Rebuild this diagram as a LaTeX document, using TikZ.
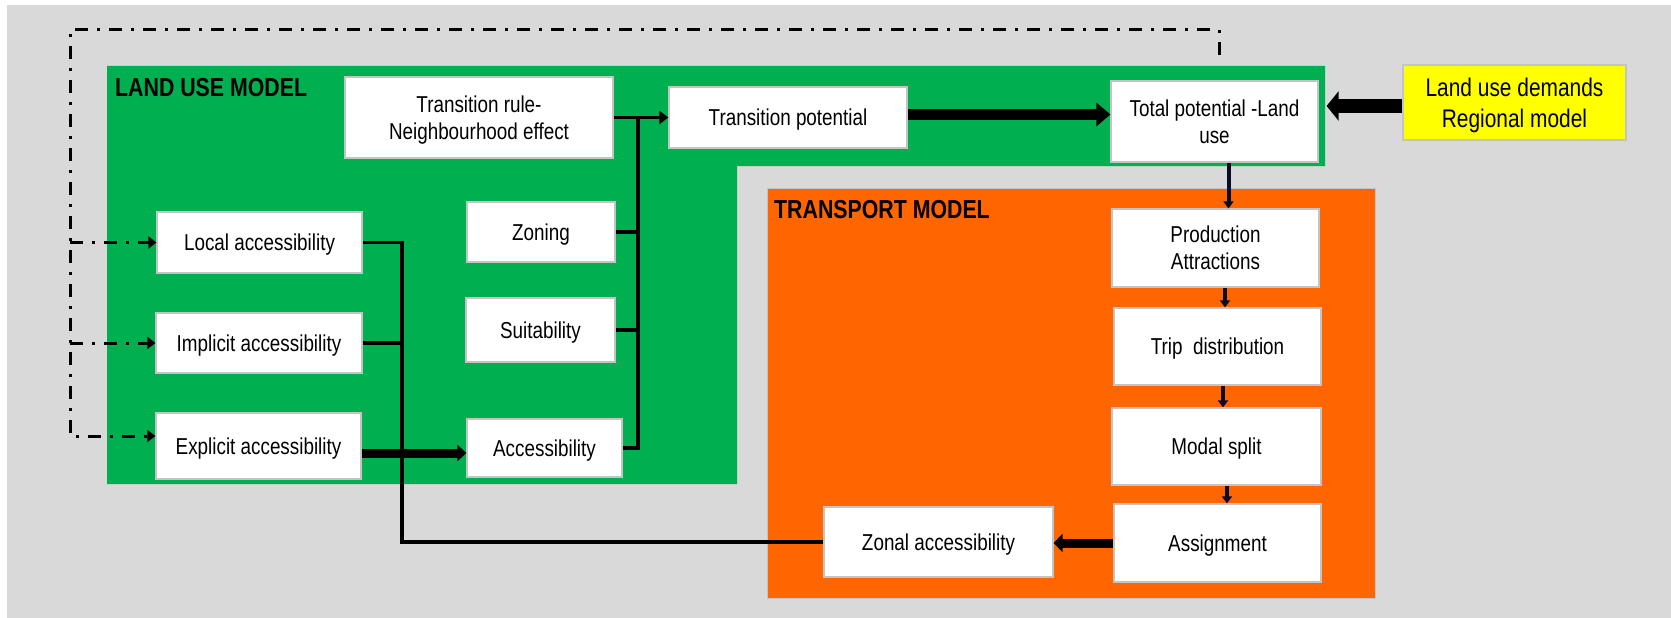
\documentclass[tikz,border=0pt]{standalone}
\usepackage{fontspec}
\setmainfont{Liberation Sans}[FakeStretch=0.82]
\usetikzlibrary{arrows.meta,calc}
\definecolor{panelgray}{HTML}{D9D9D9}
\definecolor{landgreen}{HTML}{00B050}
\definecolor{transorange}{HTML}{FF6600}
\definecolor{demandyellow}{HTML}{FFFF00}
\definecolor{boxedge}{HTML}{C4C4C4}
\definecolor{flowink}{HTML}{0B0B26}
\begin{document}
\begin{tikzpicture}[x=1pt,y=-1pt,
  box/.style={draw=boxedge, line width=1.2pt, fill=white, align=center,
    inner sep=2pt, text depth=0pt, font=\fontsize{23}{27}\selectfont},
  heading/.style={font=\fontsize{26}{30}\selectfont\bfseries, inner sep=0pt, anchor=base west},
  wire/.style={line width=3.2pt, draw=black},
  thinhead/.style={-{Triangle[length=9pt,width=13pt]}},
  downflow/.style={line width=4pt, draw=flowink, -{Triangle[length=7pt,width=10pt]}},
  feedback/.style={line width=3pt, dash pattern=on 13pt off 9pt on 3pt off 9pt,
    -{Triangle[length=8pt,width=12pt]}}
]
\useasboundingbox (0,0) rectangle (1671,618);

% backgrounds
\fill[panelgray] (7,5) rectangle (1671,618);
\fill[landgreen] (107,66) -- (1325,66) -- (1325,166) -- (737,166) -- (737,484) -- (107,484) -- cycle;
\fill[transorange, draw=boxedge, line width=0.8pt] (767,188) rectangle (1375,598);

% panel titles
\node[heading] (lumtitle) at (115,96) {LAND USE MODEL};
\node[heading] (tmtitle) at (774,218) {TRANSPORT MODEL};

% land use model boxes
\node[box, minimum width=268pt, minimum height=81pt] (trule) at (479,117.5) {Transition rule-\\Neighbourhood effect};
\node[box, minimum width=238pt, minimum height=61pt] (tpot) at (788,117.5) {Transition potential};
\node[box, minimum width=207pt, minimum height=81pt] (total) at (1214.5,121.5) {Total potential -Land\\use};
\node[box, fill=demandyellow, minimum width=223pt, minimum height=75pt,
      font=\fontsize{25.5}{31}\selectfont] (demand) at (1514.5,102.5) {Land use demands\\Regional model};
\node[box, minimum width=148pt, minimum height=60pt] (zoning) at (541,232) {Zoning};
\node[box, minimum width=149pt, minimum height=64pt] (suit) at (540.5,330) {Suitability};
\node[box, minimum width=155pt, minimum height=58pt] (acc) at (544.5,448) {Accessibility};
\node[box, minimum width=205pt, minimum height=61pt] (local) at (259.5,242.5) {Local accessibility};
\node[box, minimum width=206pt, minimum height=60pt] (implicit) at (259,343) {Implicit accessibility};
\node[box, minimum width=205pt, minimum height=66pt] (explicit) at (258.5,446) {Explicit accessibility};

% transport model boxes
\node[box, minimum width=207pt, minimum height=78pt] (prod) at (1215.5,248) {Production\\Attractions};
\node[box, minimum width=207pt, minimum height=77pt] (trip) at (1217.5,346.5) {Trip\ \ distribution};
\node[box, minimum width=209pt, minimum height=77pt] (modal) at (1216.5,446.5) {Modal split};
\node[box, minimum width=207pt, minimum height=78pt] (assign) at (1217.5,543) {Assignment};
\node[box, minimum width=229pt, minimum height=70pt] (zonal) at (938.5,542) {Zonal accessibility};

% collecting bus into the transition potential
\coordinate (bus) at (638,0);
\draw[wire, thinhead] (trule.east) -- (tpot.west |- trule.east);
\draw[wire, line join=miter] (acc.east) -- (acc.east -| bus) -- (trule.east -| bus);
\draw[wire] (zoning.east) -- (zoning.east -| bus);
\draw[wire] (suit.east) -- (suit.east -| bus);

% zonal accessibility fed back to the local and implicit measures
\coordinate (ret) at (402,0);
\draw[wire, line join=miter] (zonal.west) -- (zonal.west -| ret) -- (local.east -| ret) -- (local.east);
\draw[line width=4pt] (implicit.east) -- (implicit.east -| ret);

% thick flow arrows
\coordinate (tp) at ([yshift=3pt]tpot.east);
\draw[line width=11pt, -{Triangle[length=14pt,width=23pt]}] (tp) -- (tp -| total.west);
\coordinate (dm) at ([yshift=-3.5pt]demand.west);
\draw[line width=14pt, -{Triangle[length=12pt,width=29pt]}, shorten >=8pt] (dm) -- (dm -| total.east);
\draw[line width=9pt, -{Triangle[length=9pt,width=18pt]}] (assign.west) -- (zonal.east |- assign.west);
\coordinate (ex) at ([yshift=-7pt]explicit.east);
\draw[line width=9pt, -{Triangle[length=9pt,width=16pt]}] (ex) -- (ex -| acc.west);

% transport model chain
\coordinate (d1) at ([xshift=14pt]total.south);
\draw[downflow] (d1) -- (d1 |- prod.north);
\coordinate (d2) at ([xshift=9.5pt]prod.south);
\draw[downflow] (d2) -- (d2 |- trip.north);
\coordinate (d3) at ([xshift=5.5pt]trip.south);
\draw[downflow] (d3) -- (d3 |- modal.north);
\coordinate (d4) at ([xshift=10.5pt]modal.south);
\draw[downflow] (d4) -- (d4 |- assign.north);

% dash-dotted feedback loop
\coordinate (fbTail) at (1219,55);
\coordinate (fbNE) at (1219,30);
\coordinate (fbNW) at (70,30);
\coordinate (fbSW) at (70,436);
\draw[feedback] (fbTail) -- (fbNE) -- (fbNW) -- (fbSW) -- (fbSW -| explicit.west);
\draw[feedback] (local.west -| fbNW) -- (local.west);
\draw[feedback] (implicit.west -| fbNW) -- (implicit.west);
\end{tikzpicture}
\end{document}
